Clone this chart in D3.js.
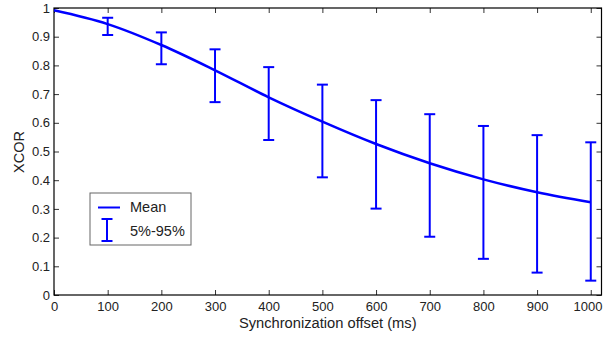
<!DOCTYPE html>
<html>
<head>
<meta charset="utf-8">
<title>xcor</title>
<style>
body { margin: 0; background: #fff; }
svg text { font-family: "Liberation Sans", Arial, Helvetica, sans-serif; fill: #222; }
</style>
<script src="https://cdn.jsdelivr.net/npm/d3@7/dist/d3.min.js"></script>
</head>
<body>
<svg width="603" height="337"></svg>
<script>
// offsets (ms) and measured XCOR
var offsets = [0, 100, 200, 300, 400, 500, 600, 700, 800, 900, 1000];
var meanVals = [0.992, 0.944, 0.871, 0.783, 0.689, 0.604, 0.526, 0.459, 0.403, 0.358, 0.323];
var p5 = [null, 0.906, 0.804, 0.672, 0.540, 0.410, 0.301, 0.203, 0.126, 0.078, 0.050];
var p95 = [null, 0.966, 0.915, 0.856, 0.794, 0.733, 0.679, 0.630, 0.589, 0.557, 0.532];
var xTicks = [0, 100, 200, 300, 400, 500, 600, 700, 800, 900, 1000];
var yTicks = [0, 0.1, 0.2, 0.3, 0.4, 0.5, 0.6, 0.7, 0.8, 0.9, 1];

var svg = d3.select("svg");
var L = 54, R = 601.5, T = 8, B = 295;
var blue = "#0000ff";

var x = d3.scaleLinear().domain([0, 1020]).range([L, R]);
var y = d3.scaleLinear().domain([0, 1]).range([B, T]);

// ticks inward, matlab style
var tk = 5;
var axB = svg.append("g").attr("transform", "translate(0," + B + ")")
    .call(d3.axisBottom(x).tickValues(xTicks).tickSize(-tk).tickPadding(7).tickFormat(d3.format("d")));
var axT = svg.append("g").attr("transform", "translate(0," + T + ")")
    .call(d3.axisTop(x).tickValues(xTicks).tickSize(-tk).tickFormat(""));
var axL = svg.append("g").attr("transform", "translate(" + L + ",0)")
    .call(d3.axisLeft(y).tickValues(yTicks).tickSize(-tk).tickPadding(4).tickFormat(function(d){ return d3.format("")(+d.toFixed(1)); }));
var axR = svg.append("g").attr("transform", "translate(" + R + ",0)")
    .call(d3.axisRight(y).tickValues(yTicks).tickSize(-tk).tickFormat(""));

[axB, axT, axL, axR].forEach(function(a){
    a.select(".domain").remove();
    a.selectAll("line").attr("stroke", "#333").attr("stroke-width", 1);
    a.selectAll("text").attr("font-size", "13px").attr("fill", "#222");
});
// last x label sits at the window edge, keep it inside
axB.selectAll(".tick text").filter(function(d){ return d === 1000; })
    .attr("text-anchor", "end").attr("x", 602 - x(1000));

// frame
svg.append("rect").attr("x", L).attr("y", T).attr("width", R - L).attr("height", B - T)
    .attr("fill", "none").attr("stroke", "#000").attr("stroke-width", 1.2);

// error bars
var eb = offsets.map(function(o, i){ return {x: o, lo: p5[i], hi: p95[i]}; })
    .filter(function(d){ return d.lo != null; });
var cap = 5.5;
var g = svg.append("g").attr("stroke", blue).attr("stroke-width", 2).attr("fill", "none");
eb.forEach(function(d){
    g.append("line").attr("x1", x(d.x)).attr("x2", x(d.x)).attr("y1", y(d.lo)).attr("y2", y(d.hi));
    g.append("line").attr("x1", x(d.x) - cap).attr("x2", x(d.x) + cap).attr("y1", y(d.lo)).attr("y2", y(d.lo));
    g.append("line").attr("x1", x(d.x) - cap).attr("x2", x(d.x) + cap).attr("y1", y(d.hi)).attr("y2", y(d.hi));
});

// mean line
var line = d3.line()
    .x(function(d, i){ return x(offsets[i]); })
    .y(function(d){ return y(d); })
    .curve(d3.curveMonotoneX);
svg.append("path").datum(meanVals).attr("d", line)
    .attr("fill", "none").attr("stroke", blue).attr("stroke-width", 2.5);

// legend
var lg = svg.append("g");
lg.append("rect").attr("x", 90).attr("y", 193).attr("width", 101).attr("height", 52)
    .attr("fill", "#fff").attr("stroke", "#666").attr("stroke-width", 1);
lg.append("line").attr("x1", 98).attr("x2", 120).attr("y1", 207.5).attr("y2", 207.5)
    .attr("stroke", blue).attr("stroke-width", 2);
lg.append("line").attr("x1", 107).attr("x2", 107).attr("y1", 219).attr("y2", 241)
    .attr("stroke", blue).attr("stroke-width", 2);
lg.append("line").attr("x1", 101.5).attr("x2", 112.5).attr("y1", 219).attr("y2", 219)
    .attr("stroke", blue).attr("stroke-width", 2);
lg.append("line").attr("x1", 101.5).attr("x2", 112.5).attr("y1", 241).attr("y2", 241)
    .attr("stroke", blue).attr("stroke-width", 2);
lg.append("text").attr("x", 130).attr("y", 212).attr("font-size", "14.5px").text("Mean");
lg.append("text").attr("x", 130).attr("y", 236).attr("font-size", "14.5px").text("5%-95%");

// axis titles
svg.append("text").attr("x", (L + R) / 2).attr("y", 328).attr("text-anchor", "middle")
    .attr("font-size", "14.7px").text("Synchronization offset (ms)");
svg.append("text").attr("transform", "translate(24,152) rotate(-90)")
    .attr("text-anchor", "middle").attr("font-size", "14.5px").text("XCOR");
</script>
</body>
</html>
